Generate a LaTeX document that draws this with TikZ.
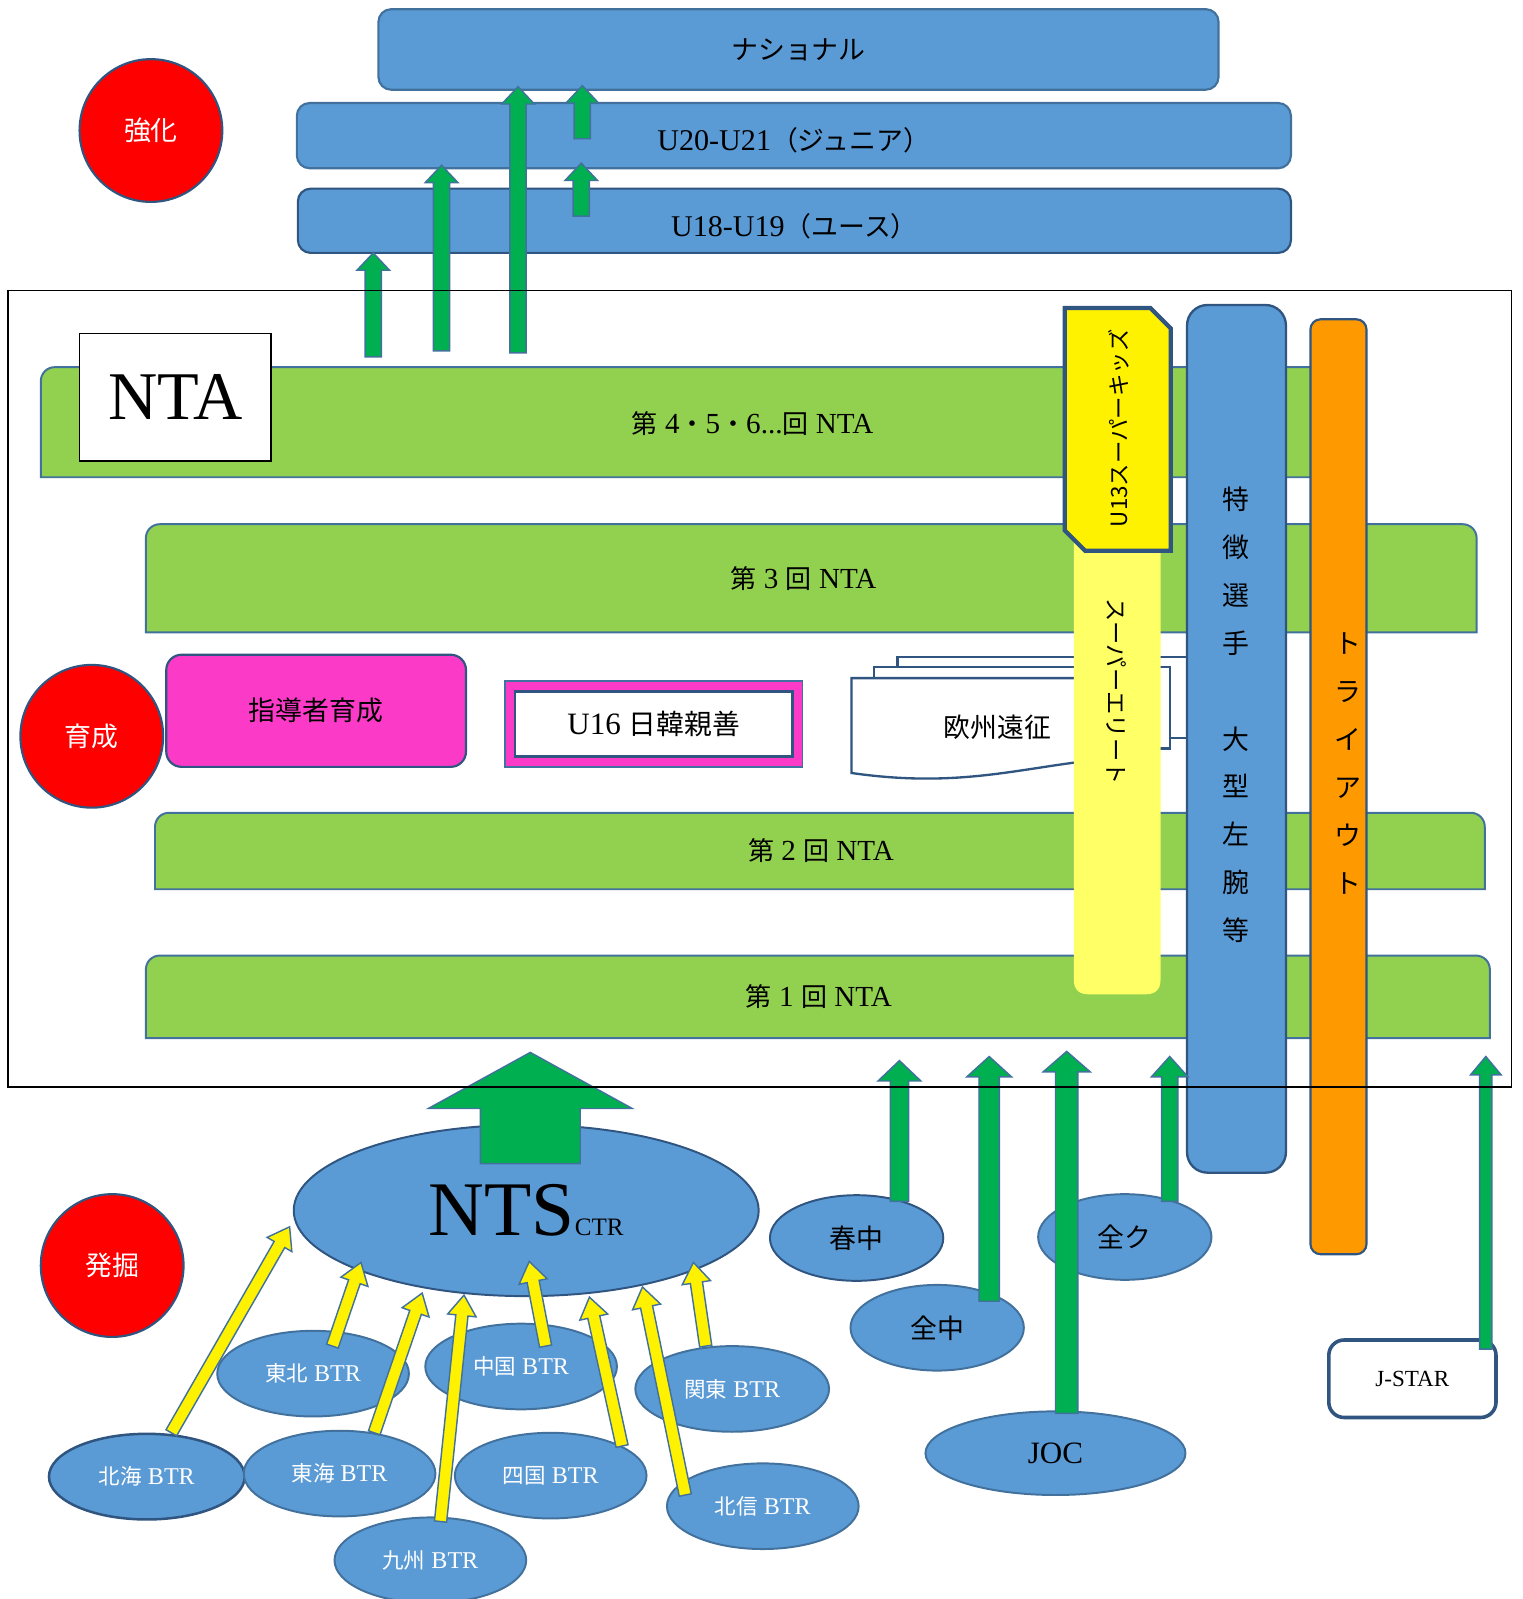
\documentclass[tikz,border=0pt]{standalone}
\usepackage{fontspec}
\setmainfont[Scale=1.12]{Liberation Serif}
\newfontfamily\jp{Noto Sans CJK JP}
\usetikzlibrary{calc,shapes.geometric}

\definecolor{boxblue}{HTML}{5B9BD5}
\definecolor{edgeblue}{HTML}{41719C}
\definecolor{deepblue}{HTML}{2F5580}
\definecolor{bargreen}{HTML}{92D050}
\definecolor{arrowgreen}{HTML}{00B050}
\definecolor{pinkbox}{HTML}{FB3AC8}
\definecolor{paleyellow}{HTML}{FFFF66}
\definecolor{tryorange}{HTML}{FF9900}

\newcommand\ja[1]{{\jp #1}}

% block arrow: style, tail, tip, shaft half width, head half width, head length (px)
\newcommand\blkarrow[6]{%
  \coordinate (ba-t) at #2;
  \coordinate (ba-h) at #3;
  \coordinate (ba-n) at ($(ba-h)!#6*0.02cm!(ba-t)$);
  \path[#1] ($(ba-t)!#4*0.02cm!90:(ba-h)$) -- ($(ba-n)!#4*0.02cm!90:(ba-h)$)
    -- ($(ba-n)!#5*0.02cm!90:(ba-h)$) -- (ba-h)
    -- ($(ba-n)!#5*0.02cm!-90:(ba-h)$) -- ($(ba-n)!#4*0.02cm!-90:(ba-h)$)
    -- ($(ba-t)!#4*0.02cm!-90:(ba-h)$) -- cycle;
}

% bar with round top corners: style, x1, y1, x2, y2
\newcommand\topbar[5]{%
  \path[#1] (#2,#5) -- ({#2},{#3+14}) .. controls ({#2},{#3+6}) and ({#2+6},{#3}) .. ({#2+14},{#3})
    -- ({#4-14},{#3}) .. controls ({#4-6},{#3}) and ({#4},{#3+6}) .. ({#4},{#3+14}) -- (#4,#5) -- cycle;
}

\begin{document}
\begin{tikzpicture}[x=0.02cm, y=-0.02cm,
    lvl/.style={draw=edgeblue, line width=1.2pt, fill=boxblue, rounded corners=0.25cm, inner sep=0,
      font=\fontsize{15}{18}\selectfont},
    bar/.style={draw=edgeblue, line width=1.1pt, fill=bargreen},
    barlabel/.style={font=\fontsize{14.5}{17}\selectfont},
    blob/.style={ellipse, draw=edgeblue, line width=1.1pt, fill=boxblue, inner sep=0, minimum height=1.68cm},
    btr/.style={blob, minimum width=3.76cm, text=white, font=\fontsize{12}{14}\selectfont},
    meet/.style={blob, minimum width=3.4cm, font=\jp\fontsize{15}{18}\selectfont},
    uparrow/.style={draw=edgeblue, line width=0.8pt, fill=arrowgreen},
    feed/.style={draw=edgeblue, line width=0.8pt, fill=yellow},
    docshape/.style={draw=deepblue, line width=1.3pt, fill=white}]

  \useasboundingbox (0,0) rectangle (1493,1568);

  % top levels
  \node[lvl, minimum width=16.48cm, minimum height=1.58cm] (national) at (783,48.5) {\ja{ナショナル}};
  \node[lvl, minimum width=19.5cm, minimum height=1.28cm] (junior) at (778.5,133)
    {\raisebox{-0.3cm}[0pt][0pt]{U20-U21\ja{（ジュニア）}}};
  \node[lvl, draw=deepblue, minimum width=19.48cm, minimum height=1.26cm] (youth) at (779,216.5)
    {\raisebox{-0.3cm}[0pt][0pt]{U18-U19\ja{（ユース）}}};

  \foreach \ax/\ay/\az in {366/350/248, 433/344/162, 508/346/85, 571/136/84, 570/212/160}
    {\blkarrow{uparrow}{(\ax,\ay)}{(\ax,\az)}{8}{16}{17}}

  % NTA bars
  \topbar{bar}{40}{360}{1335}{468}
  \topbar{bar}{143}{514}{1448}{620}
  \topbar{bar}{152}{797}{1456}{872}
  \topbar{bar}{143}{937}{1461}{1018}
  \node[barlabel] (nta4) at (738,415) {\ja{第} 4\ja{・}5\ja{・}6...\ja{回} NTA};
  \node[barlabel] (nta3) at (788,567) {\ja{第} 3 \ja{回} NTA};
  \node[barlabel] (nta2) at (805,834) {\ja{第} 2 \ja{回} NTA};
  \node[barlabel] (nta1) at (803,977) {\ja{第} 1 \ja{回} NTA};

  \node[draw, line width=1pt, fill=white, minimum width=3.76cm, minimum height=2.5cm,
    font=\fontsize{34}{38}\selectfont] (nta) at (172,389.5) {NTA};

  % growth items
  \node[draw=deepblue, line width=1.2pt, fill=pinkbox, rounded corners=0.3cm, minimum width=5.88cm,
    minimum height=2.2cm, font=\jp\fontsize{15}{18}\selectfont] (coach) at (310,697) {指導者育成};
  \node[draw=edgeblue, line width=1pt, fill=pinkbox, minimum width=5.84cm, minimum height=1.68cm] (u16frame) at (641,710) {};
  \node[draw=deepblue, line width=1.6pt, fill=white, minimum width=5.44cm, minimum height=1.28cm,
    font=\fontsize{15.5}{18}\selectfont] (u16) at (641,710) {U16 \ja{日韓親善}};

  \path[docshape] (880,644) rectangle (1170,724);
  \path[docshape] (857,654) rectangle (1147,734);
  \path[docshape] (835,665) -- (1125,665) -- (1125,742) .. controls (1020,744) and (960,776) .. (835,758) -- cycle;
  \node[font=\jp\fontsize{15}{18}\selectfont] (europe) at (978,713) {欧州遠征};

  % columns
  \path[fill=paleyellow] (1053,530) -- (1138,530) -- (1138,961) .. controls (1138,970) and (1133,975) .. (1124,975)
    -- (1067,975) .. controls (1058,975) and (1053,970) .. (1053,961) -- cycle;
  \node[rotate=-90, anchor=west, font=\jp\fontsize{13}{15}\selectfont] (elite) at (1095,580) {スーパーエリート};

  \path[draw=deepblue, line width=2.4pt, fill=yellow] (1044,302) -- (1128,302) -- (1148,322) -- (1148,540)
    -- (1064,540) -- (1044,520) -- cycle;
  \node[rotate=90, font=\jp\fontsize{12.5}{15}\selectfont] (kids) at (1097,420) {U13スーパーキッズ};

  \node[draw=deepblue, line width=1.3pt, fill=boxblue, rounded corners=0.4cm, minimum width=1.94cm,
    minimum height=17.02cm] (feature) at (1212.5,724.5) {};
  \node[align=center, font=\jp\fontsize{15}{26.75}\selectfont] (featuretext) at (1212,701)
    {特\\徴\\選\\手\\[0.94cm]大\\型\\左\\腕\\等};

  \node[draw=deepblue, line width=1.2pt, fill=tryorange, rounded corners=0.2cm, minimum width=1.1cm,
    minimum height=18.34cm] (tryout) at (1312.5,771.5) {};
  \node[align=center, font=\jp\fontsize{15}{26.75}\selectfont] (tryouttext) at (1322,749)
    {ト\\ラ\\イ\\ア\\ウ\\ト};

  % stage circles
  \begin{scope}[every node/.style={circle, draw=deepblue, line width=1.2pt, fill=red, minimum size=2.8cm,
      text=white, font=\jp\fontsize{15}{18}\selectfont}]
    \node (boost) at (148,128) {強化};
    \node (grow) at (90,722) {育成};
    \node (scout) at (110,1241) {発掘};
  \end{scope}

  % NTS and feeders
  \node[blob, draw=deepblue, minimum width=9.12cm, minimum height=3.36cm] (nts) at (516,1187)
    {{\fontsize{38.5}{42}\selectfont NTS}{\fontsize{12.5}{15}\selectfont CTR}};
  \blkarrow{uparrow}{($(nts)+(4,-46)$)}{($(nts)+(4,-155)$)}{49}{100}{55}

  \node[btr] (tohoku) at (307,1347) {\ja{東北} BTR};
  \node[btr] (chugoku) at (511,1340) {\ja{中国} BTR};
  \node[btr, minimum width=3.8cm] (kanto) at (718,1362) {\ja{関東} BTR};
  \node[btr, draw=deepblue, line width=1.4pt, minimum width=3.84cm] (hokkai) at (144,1448) {\ja{北海} BTR};
  \node[btr] (tokai) at (333,1445) {\ja{東海} BTR};
  \node[btr] (shikoku) at (540,1447) {\ja{四国} BTR};
  \node[btr] (hokushin) at (748,1477) {\ja{北信} BTR};
  \node[btr] (kyushu) at (422,1530) {\ja{九州} BTR};

  \blkarrow{feed}{($(hokkai)+(24,-43)$)}{($(nts)+(-232,16)$)}{6}{14}{20}
  \blkarrow{feed}{($(tohoku)+(19,-27)$)}{($(nts)+(-162,51)$)}{6}{14}{20}
  \blkarrow{feed}{($(tokai)+(34,-40)$)}{($(nts)+(-102,81)$)}{6}{14}{20}
  \blkarrow{feed}{($(kyushu)+(10,-38)$)}{($(nts)+(-61,83)$)}{6}{14}{20}
  \blkarrow{feed}{($(chugoku)+(24,-20)$)}{($(nts)+(3,50)$)}{6}{14}{20}
  \blkarrow{feed}{($(shikoku)+(70,-29)$)}{($(nts)+(62,85)$)}{6}{14}{20}
  \blkarrow{feed}{($(hokushin)+(-76,-11)$)}{($(nts)+(114,75)$)}{6}{14}{20}
  \blkarrow{feed}{($(kanto)+(-26,-42)$)}{($(nts)+(164,51)$)}{6}{14}{20}

  % other routes
  \node[meet, draw=deepblue] (shunchu) at (840,1214) {春中};
  \node[meet] (zenchu) at (919,1302) {全中};
  \node[meet] (zenku) at (1103,1213) {全ク};
  \node[blob, minimum width=5.1cm, minimum height=1.64cm, font=\fontsize{15.5}{18}\selectfont] (joc) at (1035,1425) {JOC};
  \node[draw=deepblue, line width=2pt, fill=white, rounded corners=0.3cm, minimum width=3.28cm,
    minimum height=1.52cm, font=\fontsize{11.5}{13}\selectfont] (jstar) at (1385,1352) {J-STAR};

  \blkarrow{uparrow}{($(shunchu)+(42,-36)$)}{($(shunchu)+(42,-174)$)}{9}{21}{20}
  \blkarrow{uparrow}{($(zenchu)+(51,-26)$)}{($(zenchu)+(51,-266)$)}{10}{22}{20}
  \blkarrow{uparrow}{($(joc)+(11,-39)$)}{($(joc)+(11,-394)$)}{11}{23}{20}
  \blkarrow{uparrow}{($(zenku)+(44,-35)$)}{($(zenku)+(44,-177)$)}{8}{18}{20}
  \blkarrow{uparrow}{($(jstar)+(72,-29)$)}{($(jstar)+(72,-316)$)}{6}{15}{18}

  % NTA frame
  \draw[line width=0.9pt] (8,285) rectangle (1482,1066);
\end{tikzpicture}
\end{document}
